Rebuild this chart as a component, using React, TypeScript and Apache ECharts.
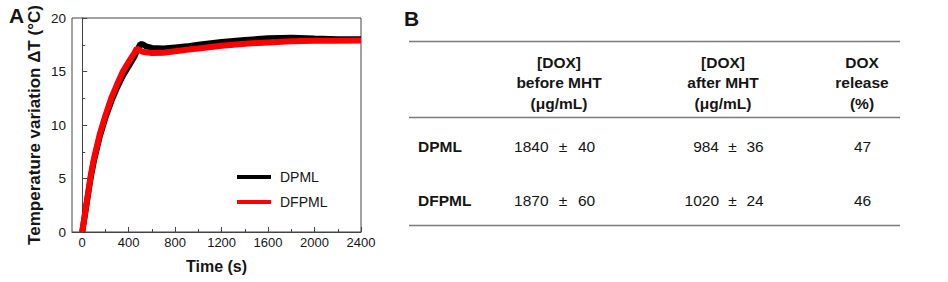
import React, { useEffect, useRef } from "react";
import * as echarts from "echarts";

// ---- Panel A data ----
const timeS = [0, 25, 50, 75, 100, 150, 200, 250, 300, 350, 400, 450, 470, 500, 520, 550, 600, 700, 800, 900, 1000, 1200, 1400, 1600, 1800, 2000, 2200, 2400];
const dpml = [0, 1.7, 3.5, 5.2, 6.6, 8.9, 10.7, 12.2, 13.5, 14.6, 15.5, 16.4, 16.9, 17.55, 17.55, 17.35, 17.2, 17.15, 17.25, 17.35, 17.5, 17.75, 17.95, 18.1, 18.15, 18.08, 18.02, 18.02];
const dfpml = [0, 1.8, 3.6, 5.4, 6.8, 9.1, 10.9, 12.5, 13.8, 15.0, 15.9, 16.75, 17.15, 16.95, 16.85, 16.8, 16.72, 16.75, 16.9, 17.03, 17.15, 17.4, 17.6, 17.72, 17.82, 17.87, 17.88, 17.9];
const seriesNames = ["DPML", "DFPML"];
const xMajorTicks = [0, 400, 800, 1200, 1600, 2000, 2400];
const xMinorTicks = [200, 600, 1000, 1400, 1800, 2200];

// ---- Panel B table ----
const headerCols = [
  ["[DOX]", "before MHT", "(μg/mL)"],
  ["[DOX]", "after MHT", "(μg/mL)"],
  ["DOX", "release", "(%)"],
];
const rowLabels = ["DPML", "DFPML"];
const beforeVals = ["1840", "1870"];
const beforeErr = ["40", "60"];
const afterVals = ["984", "1020"];
const afterErr = ["36", "24"];
const releasePct = ["47", "46"];

const FONT = "'Liberation Sans', Arial, Helvetica, sans-serif";
const TXT = "#151515";

export default function App() {
  const ref = useRef<HTMLDivElement>(null);
  useEffect(() => {
    if (!ref.current) return;
    const chart = echarts.init(ref.current, undefined, { renderer: "svg" });

    const colX = [559, 723, 862];
    const headY = [62, 82, 103];
    const rowY = [146, 200];
    const graphics: any[] = [];
    const txt = (x: number, y: number, text: string, align: string, bold: boolean, size = 15.5) => ({
      type: "text",
      x,
      y,
      style: { text, fill: TXT, font: `${bold ? "bold " : ""}${size}px ${FONT}`, align, verticalAlign: "middle" },
    });
    graphics.push(txt(9, 15, "A", "left", true, 21));
    graphics.push(txt(404, 18, "B", "left", true, 21));
    [41.5, 117.5, 225.5].forEach((y) =>
      graphics.push({ type: "line", shape: { x1: 409, y1: y, x2: 900, y2: y }, style: { stroke: "#7a7a7a", lineWidth: 1.6 } })
    );
    headerCols.forEach((col, ci) => col.forEach((t, li) => graphics.push(txt(colX[ci], headY[li], t, "center", true))));
    rowLabels.forEach((lab, ri) => {
      const y = rowY[ri];
      graphics.push(txt(418, y, lab, "left", true));
      graphics.push(txt(548.5, y, beforeVals[ri], "right", false));
      graphics.push(txt(563, y, "±", "center", false));
      graphics.push(txt(578, y, beforeErr[ri], "left", false));
      graphics.push(txt(719, y, afterVals[ri], "right", false));
      graphics.push(txt(732.5, y, "±", "center", false));
      graphics.push(txt(746.5, y, afterErr[ri], "left", false));
      graphics.push(txt(862.5, y, releasePct[ri], "center", false));
    });

    const xMin = -88;
    chart.setOption({
      animation: false,
      textStyle: { fontFamily: FONT },
      grid: { left: 72, right: 587, top: 18, bottom: 50, show: true, borderColor: "#444", borderWidth: 1, outerBoundsMode: "none" },
      legend: {
        data: seriesNames,
        orient: "vertical",
        left: 232,
        top: 164,
        icon: "rect",
        itemWidth: 34,
        itemHeight: 4,
        itemGap: 9,
        textStyle: { fontSize: 14, color: TXT, fontFamily: FONT, lineHeight: 16, padding: [0, 0, 0, 4] },
      },
      xAxis: [
        {
          type: "value",
          min: xMin,
          max: 2400,
          name: "Time (s)",
          nameLocation: "middle",
          nameGap: 26,
          nameTextStyle: { fontSize: 16, fontWeight: "bold", color: TXT, fontFamily: FONT },
          axisLine: { show: true, lineStyle: { color: "#444", width: 1 } },
          axisTick: { show: true, inside: true, length: 5, customValues: xMajorTicks, lineStyle: { color: "#444" } },
          axisLabel: { customValues: xMajorTicks, fontSize: 13, color: TXT, margin: 4, fontFamily: FONT, formatter: (v: number) => String(v) },
          splitLine: { show: false },
        },
        {
          type: "value",
          min: xMin,
          max: 2400,
          position: "bottom",
          axisLine: { show: false },
          axisTick: { show: true, inside: true, length: 3, customValues: xMinorTicks, lineStyle: { color: "#444" } },
          axisLabel: { show: false },
          splitLine: { show: false },
        },
      ],
      yAxis: {
        type: "value",
        min: 0,
        max: 20,
        interval: 5,
        name: "Temperature variation ΔT (°C)",
        nameLocation: "middle",
        nameGap: 29,
        nameTextStyle: { fontSize: 17, fontWeight: "bold", color: TXT, fontFamily: FONT },
        axisLine: { show: true, lineStyle: { color: "#444", width: 1 } },
        axisTick: { show: true, inside: true, length: 5, lineStyle: { color: "#444" } },
        minorTick: { show: true, splitNumber: 2, length: 3, lineStyle: { color: "#444" } },
        axisLabel: { fontSize: 13.5, color: TXT, margin: 6, fontFamily: FONT },
        splitLine: { show: false },
      },
      series: [
        {
          name: seriesNames[0],
          type: "line",
          showSymbol: false,
          color: "#000000",
          lineStyle: { width: 6, color: "#000000" },
          data: timeS.map((t, i) => [t, dpml[i]]),
        },
        {
          name: seriesNames[1],
          type: "line",
          showSymbol: false,
          color: "#ff0000",
          lineStyle: { width: 6, color: "#ff0000" },
          data: timeS.map((t, i) => [t, dfpml[i]]),
        },
      ],
      graphic: graphics,
    });
    return () => chart.dispose();
  }, []);
  return <div ref={ref} style={{ position: "fixed", left: 0, top: 0, width: 948, height: 282, background: "#fff" }} />;
}
